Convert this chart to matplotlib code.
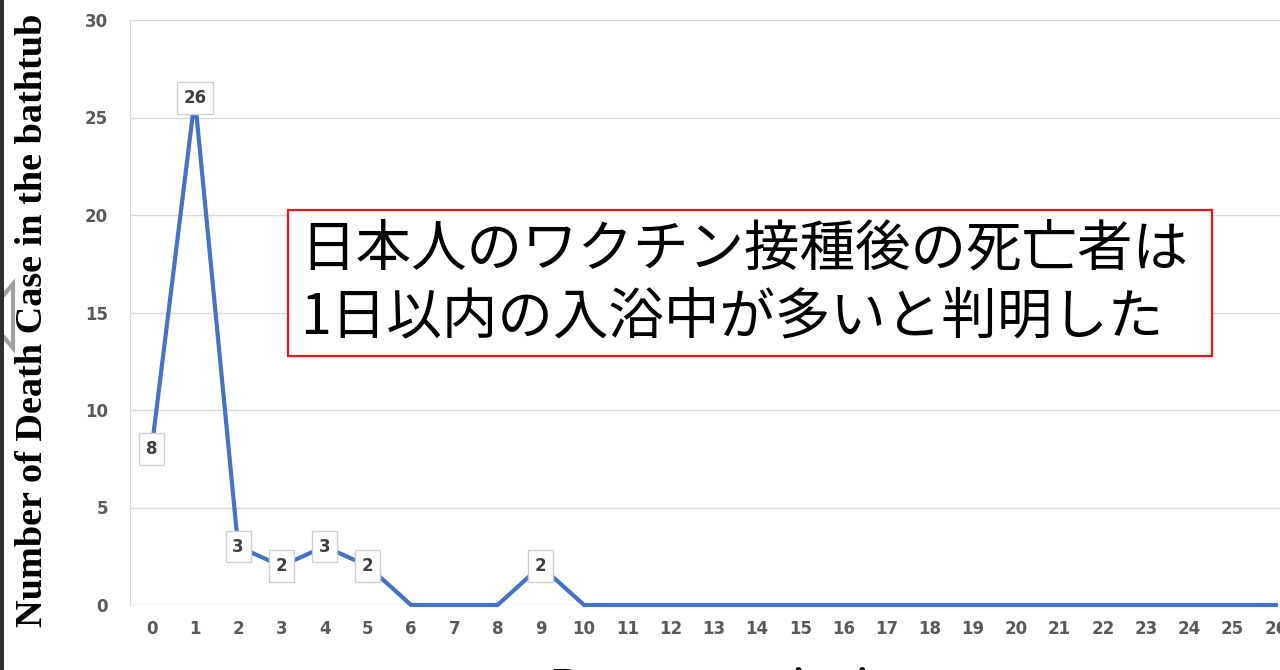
"""Bathtub death cases by days after vaccination, redrawn as a line chart."""

import matplotlib

matplotlib.use("Agg")

import matplotlib.pyplot as plt  # noqa: E402
from matplotlib.patches import Polygon, Rectangle  # noqa: E402

W, H = 1280, 670

days = list(range(27))
deaths = [8, 26, 3, 2, 3, 2, 0, 0, 0, 2] + [0] * 17
y_ticks = [0, 5, 10, 15, 20, 25, 30]

y_label = "Number of Death Case in the bathtub"
x_label = "Days post vaccination"
note_lines = ["日本人のワクチン接種後の死亡者は", "1日以内の入浴中が多いと判明した"]

_LINE_COLOR = "#4472c4"
_GRID_COLOR = "#d9d9d9"
_TICK_COLOR = "#595959"
_LABEL_COLOR = "#404040"
_NOTE_EDGE = "#e8141b"


def fx(x):
    return x / W


def fy(y):
    # pixel rows counted from the top, like the reference picture
    return 1 - y / H


fig = plt.figure(figsize=(W / 100, H / 100), dpi=100)
fig.patch.set_facecolor("white")

# plot area: x=-0.5 at px 130, 43.24 px per day; y=0 at row 605, y=30 at row 20
left, right = 130, 130 + 27.0 * 43.24
ax = fig.add_axes([fx(left), fy(605), fx(right - left), fy(20) - fy(605)])
ax.set_xlim(-0.5, 26.5)
ax.set_ylim(0, 30)
ax.set_xticks(days)
ax.set_yticks(y_ticks)
ax.grid(True, axis="y", color=_GRID_COLOR, lw=1, zorder=0)
ax.set_axisbelow(True)
for side in ("top", "right", "bottom"):
    ax.spines[side].set_visible(False)
ax.spines["left"].set_color(_GRID_COLOR)
ax.tick_params(axis="both", length=0, colors=_TICK_COLOR, labelsize=12)
ax.tick_params(axis="y", pad=16)
ax.tick_params(axis="x", pad=11)
for lab in ax.get_xticklabels() + ax.get_yticklabels():
    lab.set_family("DejaVu Sans")
    lab.set_fontweight("bold")

ax.plot(days, deaths, color=_LINE_COLOR, lw=3, clip_on=False, zorder=3,
        solid_joinstyle="miter")

for d, v in zip(days, deaths):
    if v == 0:
        continue
    ax.text(d, v, str(v), ha="center", va="center", fontsize=12,
            family="DejaVu Sans", fontweight="bold", color=_LABEL_COLOR,
            zorder=5,
            bbox=dict(boxstyle="square,pad=0.4", facecolor="white",
                      edgecolor="#cfcfcf", lw=1))

# axis titles in bold serif
fig.text(fx(33), fy(320), y_label, rotation=90, ha="center", va="center",
         family="Liberation Serif", fontweight="bold", fontsize=27.5,
         color="black")
fig.text(fx(553), fy(694), x_label, ha="left", va="baseline",
         family="Liberation Serif", fontweight="bold", fontsize=27.5,
         color="black")

# red-framed Japanese caption
fig.patches.append(Rectangle((fx(288), fy(356)), fx(1212 - 288), fy(210) - fy(356),
                             transform=fig.transFigure, facecolor="white",
                             edgecolor=_NOTE_EDGE, lw=1.6, zorder=6))
for row, line in zip([250, 318], note_lines):
    fig.text(fx(300), fy(row), line, ha="left", va="center",
             family=["Noto Sans CJK JP", "DejaVu Sans"], fontsize=40,
             color="black", zorder=7)

# video player chrome at the left edge
fig.patches.append(Polygon([(fx(-14), fy(316)), (fx(13), fy(284)), (fx(13), fy(348))],
                           closed=True, transform=fig.transFigure,
                           facecolor="white", edgecolor="#a0a0a0", lw=3, zorder=1))
fig.patches.append(Rectangle((0, 0), fx(4), 1, transform=fig.transFigure,
                             facecolor="#2e2e2e", edgecolor="none", zorder=2))

fig.savefig("out.png", dpi=100)
plt.close(fig)
